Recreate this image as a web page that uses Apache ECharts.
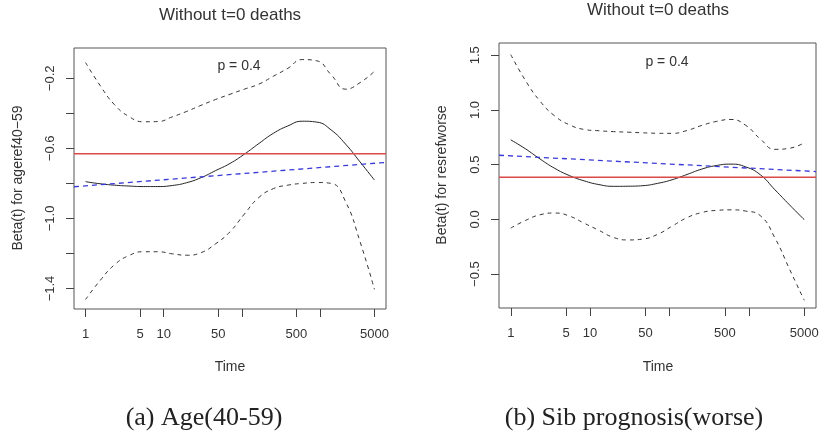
<!DOCTYPE html>
<html>
<head>
    <meta charset="UTF-8">
    <title>Beta(t)</title>
    <script src="https://cdn.jsdelivr.net/npm/echarts@6/dist/echarts.min.js"></script>
    <style>
        html, body { margin: 0; padding: 0; background: #fff; }
        #main { width: 822px; height: 438px; }
    </style>
</head>
<body>
<div id="main"></div>
<script type="text/javascript">
    // time points (days), roughly evenly spaced on the log scale, shared by all curves
    var times = [1, 1.53, 2.34, 3.59, 5.5, 8.41, 12.9, 19.7, 30.2, 46.2, 70.8, 108, 166, 254, 389, 596, 912, 1396, 2138, 3266, 5000];

    // (a) Age(40-59)
    var ageBeta  = [-0.790, -0.802, -0.810, -0.815, -0.818, -0.818, -0.812, -0.796, -0.767, -0.727, -0.686, -0.633, -0.572, -0.514, -0.472, -0.445, -0.450, -0.495, -0.576, -0.677, -0.781];
    var ageUpper = [-0.110, -0.240, -0.350, -0.418, -0.448, -0.447, -0.420, -0.389, -0.354, -0.321, -0.291, -0.262, -0.233, -0.188, -0.143, -0.093, -0.100, -0.180, -0.262, -0.225, -0.160];
    var ageLower = [-1.463, -1.355, -1.265, -1.212, -1.190, -1.190, -1.202, -1.210, -1.195, -1.145, -1.076, -0.975, -0.880, -0.830, -0.810, -0.800, -0.795, -0.800, -0.905, -1.132, -1.405];
    var ageCoef = -0.630;
    var ageTrend = [-0.819, -0.680];

    // (b) Sib prognosis(worse)
    var sibBeta  = [0.727, 0.645, 0.552, 0.466, 0.400, 0.352, 0.318, 0.302, 0.303, 0.308, 0.329, 0.362, 0.410, 0.459, 0.492, 0.505, 0.480, 0.408, 0.270, 0.132, -0.003];
    var sibUpper = [1.506, 1.270, 1.080, 0.945, 0.864, 0.822, 0.810, 0.802, 0.797, 0.791, 0.787, 0.786, 0.812, 0.858, 0.895, 0.913, 0.860, 0.735, 0.640, 0.650, 0.700];
    var sibLower = [-0.080, -0.010, 0.042, 0.058, 0.030, -0.035, -0.100, -0.165, -0.188, -0.180, -0.137, -0.062, 0.015, 0.062, 0.082, 0.087, 0.076, 0.034, -0.171, -0.456, -0.740];
    var sibCoef = 0.385;
    var sibTrend = [0.586, 0.437];

    // reference lines run across the whole plot width
    var lineEnds = [0.711, 7030];

    var xTickTimes = [1, 5, 10, 50, 100, 500, 1000, 5000];
    var xLabelTimes = [1, 5, 10, 50, 500, 5000];
    var ageTicks = [-1.4, -1.2, -1.0, -0.8, -0.6, -0.4, -0.2];
    var ageLabels = [-1.4, -1.0, -0.6, -0.2];
    var sibTicks = [-0.5, 0.0, 0.5, 1.0, 1.5];

    var FONT = 'Liberation Sans, Arial, Helvetica, sans-serif';
    var SERIF = 'Liberation Serif, Times New Roman, serif';
    var xMin = Math.log10(lineEnds[0]);
    var xMax = Math.log10(lineEnds[1]);

    function lg(arr) {
        return arr.map(function (t) { return Math.log10(t); });
    }

    function pairs(ys) {
        return times.map(function (t, i) { return [Math.log10(t), ys[i]]; });
    }

    function xAxisFor(gi) {
        return {
            type: 'value', gridIndex: gi, min: xMin, max: xMax,
            splitLine: {show: false},
            axisLine: {show: false, onZero: false},
            axisTick: {show: true, length: 8, lineStyle: {color: '#444'}, customValues: lg(xTickTimes)},
            axisLabel: {
                customValues: lg(xLabelTimes), margin: 19, color: '#333', fontSize: 13, fontFamily: FONT,
                formatter: function (v) { return String(Math.round(Math.pow(10, v))); }
            }
        };
    }

    function yAxisFor(gi, min, max, ticks, labels) {
        return {
            type: 'value', gridIndex: gi, min: min, max: max,
            splitLine: {show: false},
            axisLine: {show: false, onZero: false},
            axisTick: {show: true, length: 8, lineStyle: {color: '#444'}, customValues: ticks},
            axisLabel: {
                customValues: labels, rotate: 90, margin: 17, color: '#333', fontSize: 13, fontFamily: FONT,
                formatter: function (v) { return v.toFixed(1).replace('-', '\u2212'); }
            }
        };
    }

    function seriesFor(gi, upper, lower, beta, coef, trend) {
        var dashed = {color: '#333', width: 1, type: [4, 4]};
        return [
            {type: 'line', xAxisIndex: gi, yAxisIndex: gi, data: pairs(upper), smooth: 0.5, showSymbol: false, lineStyle: dashed},
            {type: 'line', xAxisIndex: gi, yAxisIndex: gi, data: pairs(lower), smooth: 0.5, showSymbol: false, lineStyle: dashed},
            {type: 'line', xAxisIndex: gi, yAxisIndex: gi, data: pairs(beta), smooth: 0.5, showSymbol: false, lineStyle: {color: '#222', width: 1}},
            {type: 'line', xAxisIndex: gi, yAxisIndex: gi, data: [[xMin, coef], [xMax, coef]], showSymbol: false, lineStyle: {color: '#dd4848', width: 1.5}},
            {type: 'line', xAxisIndex: gi, yAxisIndex: gi, data: [[xMin, trend[0]], [xMax, trend[1]]], showSymbol: false, lineStyle: {color: '#3a3ad8', width: 1.3, type: [5, 4]}}
        ];
    }

    function label(x, y, text, size, extra) {
        var el = {
            type: 'text', x: x, y: y,
            style: {text: text, fontSize: size, fontFamily: FONT, fill: '#333', align: 'center', verticalAlign: 'middle'}
        };
        if (extra) {
            for (var k in extra) el[k] = extra[k];
        }
        return el;
    }

    var myChart = echarts.init(document.getElementById('main'), null, {renderer: 'canvas'});

    var option = {
        animation: false,
        backgroundColor: '#fff',
        grid: [
            {left: 74, top: 48, width: 312, height: 261, show: true, borderColor: '#555', borderWidth: 1},
            {left: 499, top: 43, width: 317, height: 265, show: true, borderColor: '#555', borderWidth: 1}
        ],
        xAxis: [xAxisFor(0), xAxisFor(1)],
        yAxis: [
            yAxisFor(0, -1.517, -0.027, ageTicks, ageLabels),
            yAxisFor(1, -0.81, 1.612, sibTicks, sibTicks)
        ],
        series: seriesFor(0, ageUpper, ageLower, ageBeta, ageCoef, ageTrend)
            .concat(seriesFor(1, sibUpper, sibLower, sibBeta, sibCoef, sibTrend)),
        graphic: [
            label(230, 15, 'Without t=0 deaths', 17),
            label(658, 10, 'Without t=0 deaths', 17),
            label(239, 66, 'p = 0.4', 14),
            label(667, 62, 'p = 0.4', 14),
            label(230, 367, 'Time', 14),
            label(658, 367, 'Time', 14),
            label(18, 178, 'Beta(t) for ageref40\u221259', 14, {rotation: Math.PI / 2}),
            label(442, 175, 'Beta(t) for resrefworse', 14, {rotation: Math.PI / 2}),
            {
                type: 'text', x: 204, y: 418,
                style: {text: '(a) Age(40-59)', fontSize: 26, fontFamily: SERIF, fill: '#222', align: 'center', verticalAlign: 'middle'}
            },
            {
                type: 'text', x: 634, y: 418,
                style: {text: '(b) Sib prognosis(worse)', fontSize: 26, fontFamily: SERIF, fill: '#222', align: 'center', verticalAlign: 'middle'}
            }
        ]
    };

    myChart.setOption(option);
</script>
</body>
</html>
